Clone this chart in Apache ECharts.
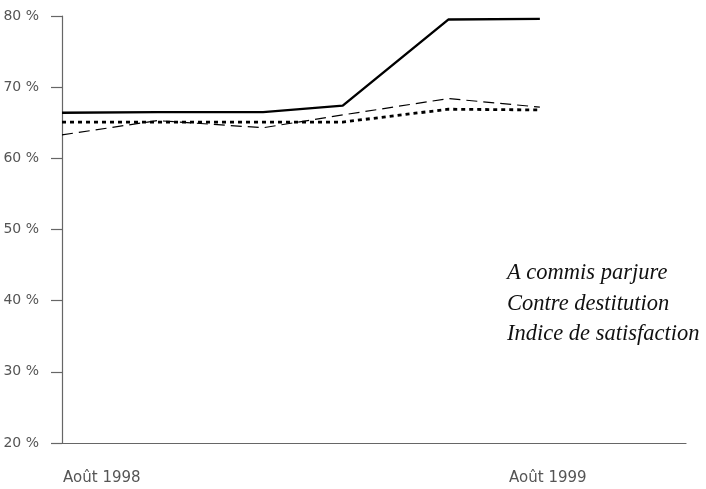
<!DOCTYPE html>
<html>
<head>
<meta charset="utf-8">
<script src="https://cdn.jsdelivr.net/npm/echarts@6/dist/echarts.min.js"></script>
<style>html,body{margin:0;padding:0;background:#fff}#c{width:706px;height:489px}</style>
</head>
<body>
<div id="c"></div>
<script>
// months since Août 1998
var months = [0, 2.4, 5.05, 7.05, 9.7, 12];
var parjure = [66.4, 66.5, 66.5, 67.4, 79.5, 79.6];
var destitution = [63.3, 65.3, 64.3, 66.1, 68.4, 67.2];
var satisfaction = [65.1, 65.1, 65.1, 65.1, 66.9, 66.8];
var seriesNames = ['A commis parjure', 'Contre destitution', 'Indice de satisfaction'];
var xLabelValues = [1.0, 12.2];
var xLabelTexts = ['Août 1998', 'Août 1999'];

function pairs(vals) { return months.map(function (m, i) { return [m, vals[i]]; }); }

var chart = echarts.init(document.getElementById('c'));
chart.setOption({
  animation: false,
  backgroundColor: '#fff',
  grid: { left: 62, top: 16, right: 20, bottom: 46, containLabel: false },
  legend: {
    orient: 'vertical', left: 497, top: 257, itemGap: 7.5,
    itemWidth: 0, itemHeight: 0, icon: 'rect',
    data: seriesNames,
    textStyle: { fontFamily: 'Liberation Serif', fontStyle: 'italic', fontSize: 22.5, color: '#111' }
  },
  xAxis: {
    type: 'value', min: 0, max: 15.67,
    axisLine: { show: true, lineStyle: { color: '#666', width: 1.2 } },
    axisTick: { show: false },
    splitLine: { show: false },
    axisLabel: {
      customValues: xLabelValues,
      formatter: function (v) { var i = xLabelValues.indexOf(v); return i >= 0 ? xLabelTexts[i] : ''; },
      margin: 28, fontFamily: 'DejaVu Sans', fontSize: 15, color: '#555'
    }
  },
  yAxis: {
    type: 'value', min: 20, max: 80, interval: 10,
    axisLine: { show: true, lineStyle: { color: '#666', width: 1.2 } },
    axisTick: { show: true, length: 11, lineStyle: { color: '#666', width: 1.2 } },
    splitLine: { show: false },
    axisLabel: {
      formatter: function (v) { return v + ' %'; },
      margin: 23, fontFamily: 'DejaVu Sans', fontSize: 14, color: '#555'
    }
  },
  series: [
    { name: seriesNames[0], type: 'line', data: pairs(parjure), symbol: 'none',
      lineStyle: { color: '#000', width: 2.4, type: 'solid' }, itemStyle: { color: '#000' } },
    { name: seriesNames[1], type: 'line', data: pairs(destitution), symbol: 'none',
      lineStyle: { color: '#000', width: 1.2, type: [11, 6] }, itemStyle: { color: '#000' } },
    { name: seriesNames[2], type: 'line', data: pairs(satisfaction), symbol: 'none',
      lineStyle: { color: '#000', width: 2.8, type: [4, 4] }, itemStyle: { color: '#000' } }
  ]
});
</script>
</body>
</html>
